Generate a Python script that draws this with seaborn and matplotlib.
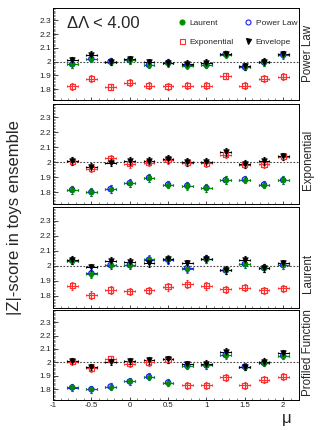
import numpy as np
import pandas as pd
import matplotlib
matplotlib.use("Agg")
import matplotlib.pyplot as plt
from matplotlib.lines import Line2D
from matplotlib.ticker import MultipleLocator, FuncFormatter
import seaborn as sns

# ---------------- data ----------------
mu = [-0.75, -0.5, -0.25, 0.0, 0.25, 0.5, 0.75, 1.0, 1.25, 1.5, 1.75, 2.0]
truth_labels = ["Power Law", "Exponential", "Laurent", "Profiled Function"]
fit_names = ["Exponential", "Power Law", "Laurent", "Envelope"]

# truth = Power Law
pl_exponential = [1.820, 1.875, 1.815, 1.845, 1.825, 1.820, 1.825, 1.825, 1.895, 1.825, 1.875, 1.890]
pl_powerlaw    = [1.980, 2.020, 2.000, 2.010, 1.975, 1.990, 1.975, 1.975, 2.055, 1.960, 1.995, 2.050]
pl_laurent     = [1.980, 2.020, 1.998, 2.010, 1.975, 1.988, 1.970, 1.975, 2.050, 1.960, 1.995, 2.045]
pl_envelope    = [2.010, 2.050, 2.000, 2.015, 1.995, 1.990, 1.985, 1.990, 2.055, 1.965, 2.000, 2.055]

# truth = Exponential
ex_exponential = [2.007, 1.957, 2.025, 1.989, 1.998, 2.016, 1.998, 1.993, 2.050, 1.984, 1.986, 2.038]
ex_powerlaw    = [1.815, 1.800, 1.820, 1.860, 1.895, 1.850, 1.843, 1.828, 1.880, 1.884, 1.850, 1.880]
ex_laurent     = [1.815, 1.800, 1.820, 1.858, 1.895, 1.850, 1.840, 1.828, 1.880, 1.883, 1.850, 1.880]
ex_envelope    = [2.009, 1.968, 1.998, 2.007, 2.011, 2.020, 2.000, 2.000, 2.068, 1.989, 2.007, 2.040]

# truth = Laurent
la_exponential = [1.867, 1.805, 1.840, 1.830, 1.837, 1.860, 1.878, 1.867, 1.844, 1.855, 1.837, 1.850]
la_powerlaw    = [2.035, 1.950, 2.005, 2.005, 2.040, 2.040, 1.985, 2.045, 1.970, 2.012, 1.985, 2.005]
la_laurent     = [2.035, 1.947, 2.008, 2.008, 2.044, 2.046, 1.980, 2.044, 1.970, 2.011, 1.985, 2.002]
la_envelope    = [2.039, 1.990, 2.032, 2.027, 2.020, 2.042, 2.016, 2.047, 1.971, 2.038, 1.985, 2.016]

# truth = Profiled Function
pf_exponential = [2.005, 1.955, 2.025, 1.990, 2.000, 2.024, 1.830, 1.830, 1.890, 1.830, 1.872, 1.893]
pf_powerlaw    = [1.813, 1.800, 1.820, 1.858, 1.893, 1.850, 1.975, 1.978, 2.055, 1.968, 1.995, 2.050]
pf_laurent     = [1.815, 1.800, 1.820, 1.858, 1.893, 1.850, 1.975, 1.978, 2.052, 1.968, 1.998, 2.048]
pf_envelope    = [2.010, 1.965, 2.002, 2.010, 2.015, 2.022, 1.988, 1.991, 2.080, 1.965, 2.006, 2.068]

z_err = 0.025       # vertical error (|Z| uncertainty)
mu_err = 0.07       # horizontal bin half-width

panel_data = {
    "Power Law": [pl_exponential, pl_powerlaw, pl_laurent, pl_envelope],
    "Exponential": [ex_exponential, ex_powerlaw, ex_laurent, ex_envelope],
    "Laurent": [la_exponential, la_powerlaw, la_laurent, la_envelope],
    "Profiled Function": [pf_exponential, pf_powerlaw, pf_laurent, pf_envelope],
}

rows = []
for truth, series in panel_data.items():
    for fit, vals in zip(fit_names, series):
        for m, v in zip(mu, vals):
            rows.append({"truth": truth, "fit": fit, "mu": m, "z": v})
df = pd.DataFrame(rows)

# ---------------- style ----------------
sns.set_theme(style="ticks")
plt.rcParams['font.family'] = ['Liberation Sans', 'DejaVu Sans']
plt.rcParams['axes.unicode_minus'] = False

colors = {"Exponential": "#ff3030", "Power Law": "#1a1aff",
          "Laurent": "#008c00", "Envelope": "#000000"}
markers = {"Exponential": "s", "Power Law": "o", "Laurent": "o", "Envelope": "v"}
filled = {"Exponential": False, "Power Law": False, "Laurent": True, "Envelope": True}
sizes = {"Exponential": 14, "Power Law": 14, "Laurent": 12, "Envelope": 16}

W, H = 332, 430
fig = plt.figure(figsize=(W / 100, H / 100), dpi=100)
left = 53 / W
width = 245.5 / W
panels_px = [(8, 100), (104, 204), (207, 308), (310, 400)]
label_centers = [53, 160, 273, 353]

fmt = FuncFormatter(lambda v, p: f"{v:g}")

for i, (truth, (t, b)) in enumerate(zip(truth_labels, panels_px)):
    ax = fig.add_axes([left, 1 - b / H, width, (b - t) / H])
    ax.set_xlim(-1, 2.2)
    ax.set_ylim(1.72, 2.39)
    ax.axhline(2.0, color="#444444", lw=0.8, ls=(0, (1.5, 1.5)), zorder=1)
    sub = df[df.truth == truth]
    for fit in fit_names:
        s = sub[sub.fit == fit]
        c = colors[fit]
        ax.errorbar(s.mu, s.z, xerr=mu_err, yerr=z_err, fmt="none",
                    ecolor=c, elinewidth=0.8, capsize=1.0, capthick=0.8, zorder=2)
        if filled[fit]:
            sns.scatterplot(x=s.mu, y=s.z, ax=ax, marker=markers[fit], s=sizes[fit],
                            color=c, edgecolor=c, linewidth=0.5, zorder=3, legend=False)
        else:
            sns.scatterplot(x=s.mu, y=s.z, ax=ax, marker=markers[fit], s=sizes[fit],
                            facecolor="none", edgecolor=c, color=c, linewidth=0.9,
                            zorder=3, legend=False)
    ax.set_xlabel("")
    ax.set_ylabel("")
    ax.yaxis.set_major_locator(MultipleLocator(0.1))
    ax.yaxis.set_minor_locator(MultipleLocator(0.01))
    ax.xaxis.set_major_locator(MultipleLocator(0.5))
    ax.xaxis.set_minor_locator(MultipleLocator(0.1))
    ax.yaxis.set_major_formatter(fmt)
    ax.xaxis.set_major_formatter(fmt)
    ax.tick_params(axis="y", which="major", direction="in", length=3.5, width=0.6,
                   labelsize=6, pad=1.5, right=False)
    ax.tick_params(axis="y", which="minor", direction="in", length=1.6, width=0.4, right=False)
    ax.tick_params(axis="x", which="major", direction="in", length=2.5, width=0.6,
                   labelsize=5.6, pad=1.5, top=False)
    ax.tick_params(axis="x", which="minor", direction="in", length=1.3, width=0.4, top=False)
    # hide the 1.7 / 2.4 edge labels
    ax.set_yticks([1.8, 1.9, 2.0, 2.1, 2.2, 2.3])
    if i < 3:
        ax.tick_params(axis="x", labelbottom=False)
    for sp in ax.spines.values():
        sp.set_linewidth(0.7)
        sp.set_color("black")
    fig.text(308 / W, 1 - label_centers[i] / H, truth, rotation=90,
             ha="center", va="center", fontsize=8.3)

    if i == 0:
        ax.text(67 / W, 1 - 23 / H, "ΔΛ < 4.00", transform=fig.transFigure,
                ha="left", va="center", fontsize=12)
        handles = []
        for fit in ["Laurent", "Exponential", "Power Law", "Envelope"]:
            c = colors[fit]
            handles.append(Line2D([], [], ls="none", marker=markers[fit],
                                  markersize=3.6,
                                  markerfacecolor=c if filled[fit] else "none",
                                  markeredgecolor=c, markeredgewidth=0.8, label=fit))
        fig.legend(handles=handles, ncol=2, frameon=False, fontsize=6,
                   loc="center left", bbox_to_anchor=(174 / W, 1 - 32.5 / H),
                   handlelength=1.0, handletextpad=0.4, columnspacing=1.2,
                   labelspacing=1.35, borderpad=0)

fig.text(15 / W, 1 - 218 / H, "|Z|-score in toys ensemble", rotation=90,
         ha="center", va="center", fontsize=12)
fig.text(287 / W, 1 - 419 / H, "μ", ha="center", va="center", fontsize=12)

fig.savefig("out.png", dpi=100)
